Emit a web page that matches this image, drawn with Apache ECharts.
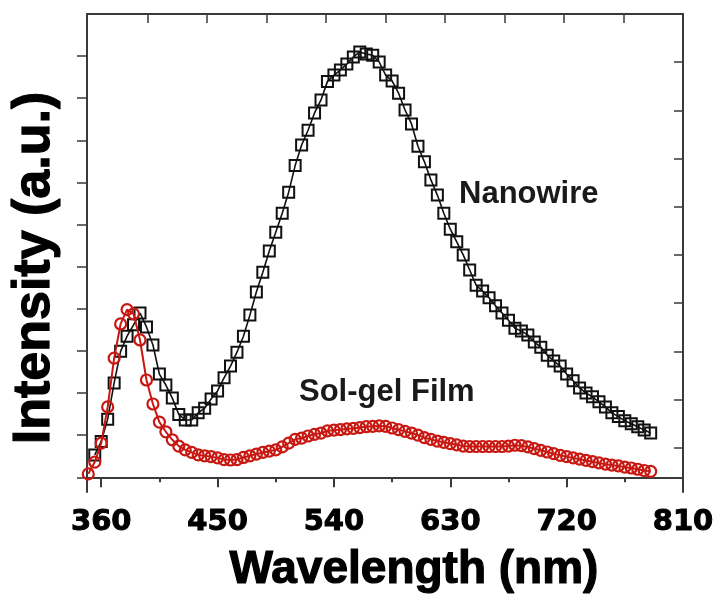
<!DOCTYPE html>
<html>
<head>
<meta charset="utf-8">
<script src="https://cdn.jsdelivr.net/npm/echarts@6/dist/echarts.min.js"></script>
<style>
  html, body { margin: 0; padding: 0; background: #fff; }
  #chart { width: 717px; height: 598px; }
</style>
</head>
<body>
<div id="chart"></div>
<script>
// Photoluminescence spectra, wavelength in nm, intensity in arbitrary units
const nanowireWavelength = [355,360,365,370,375,380,385,390,395,400,405,410,415,420,425,430,435,440,445,450,455,460,465,470,475,480,485,490,495,500,505,510,515,520,525,530,535,540,545,550,555,560,565,570,575,580,585,590,595,600,605,610,615,620,625,630,635,640,645,650,655,660,665,670,675,680,685,690,695,700,705,710,715,720,725,730,735,740,745,750,755,760,765,770,775,780,785];
const nanowireIntensity = [0.53,0.85,1.38,2.24,2.99,3.35,3.62,3.90,3.57,3.14,2.45,2.19,1.88,1.49,1.36,1.36,1.53,1.64,1.86,2.05,2.36,2.64,2.97,3.35,3.85,4.40,4.87,5.37,5.82,6.27,6.77,7.40,7.89,8.24,8.65,8.96,9.40,9.55,9.67,9.81,9.98,10.10,10.05,10.02,9.86,9.55,9.41,9.12,8.72,8.39,7.86,7.49,7.06,6.70,6.27,5.89,5.59,5.28,4.92,4.56,4.42,4.26,4.07,3.90,3.73,3.54,3.47,3.38,3.21,3.09,2.90,2.76,2.64,2.45,2.29,2.12,2.00,1.91,1.79,1.67,1.53,1.44,1.34,1.27,1.20,1.12,1.05];

const solgelWavelength = [350,355,360,365,370,375,380,385,390,395,400,405,410,415,420,425,430,435,440,445,450,455,460,465,470,475,480,485,490,495,500,505,510,515,520,525,530,535,540,545,550,555,560,565,570,575,580,585,590,595,600,605,610,615,620,625,630,635,640,645,650,655,660,665,670,675,680,685,690,695,700,705,710,715,720,725,730,735,740,745,750,755,760,765,770,775,780,785];
const solgelIntensity = [0.08,0.36,0.81,1.67,2.83,3.64,3.98,3.88,3.26,2.31,1.74,1.31,1.08,0.89,0.74,0.65,0.59,0.53,0.51,0.49,0.46,0.42,0.41,0.42,0.47,0.51,0.55,0.59,0.62,0.65,0.72,0.81,0.90,0.93,0.98,1.02,1.05,1.10,1.12,1.13,1.15,1.16,1.18,1.20,1.21,1.22,1.21,1.17,1.13,1.09,1.05,1.00,0.94,0.90,0.86,0.83,0.80,0.77,0.74,0.73,0.73,0.73,0.73,0.73,0.73,0.74,0.76,0.75,0.72,0.68,0.64,0.60,0.56,0.52,0.49,0.46,0.43,0.40,0.37,0.34,0.31,0.29,0.27,0.24,0.22,0.19,0.16,0.14];

// Axis tick labels and tick positions
const xTickLabels = [360, 450, 540, 630, 720, 810];
const xMinorTicks = [405, 495, 585, 675, 765];
const xTopTicks = [396, 442, 488, 534, 580, 626, 672, 718, 764];
const yLeftTicks = [0, 1, 2, 3, 4, 5, 6, 7, 8, 9, 10];
const yRightTicks = [9.856, 8.712, 7.568, 6.424, 5.28, 4.136, 2.992, 1.848, 0.704];

const X_MIN = 349, X_MAX = 810, Y_MIN = -0.35, Y_MAX = 11;
const AXIS_COLOR = '#3a3a3a';

function pairs(xs, ys) { return xs.map((x, i) => [x, ys[i]]); }

const chart = echarts.init(document.getElementById('chart'), null, { renderer: 'canvas' });

const option = {
  animation: false,
  backgroundColor: '#ffffff',
  grid: { left: 87, top: 14, right: 34, bottom: 106, containLabel: false },
  xAxis: [
    {
      type: 'value', min: X_MIN, max: X_MAX, position: 'bottom',
      axisLine: { show: true, lineStyle: { color: AXIS_COLOR, width: 2 } },
      axisTick: { show: true, inside: false, length: 10, customValues: xTickLabels, lineStyle: { color: AXIS_COLOR, width: 2 } },
      axisLabel: {
        show: true, customValues: xTickLabels, margin: 16,
        color: '#000', fontFamily: 'DejaVu Sans', fontWeight: 'bold', fontSize: 29,
        textBorderColor: '#000', textBorderWidth: 1
      },
      splitLine: { show: false }
    },
    {
      type: 'value', min: X_MIN, max: X_MAX, position: 'bottom',
      axisLine: { show: false },
      axisTick: { show: true, inside: false, length: 5, customValues: xMinorTicks, lineStyle: { color: AXIS_COLOR, width: 2 } },
      axisLabel: { show: false, customValues: xMinorTicks },
      splitLine: { show: false }
    },
    {
      type: 'value', min: X_MIN, max: X_MAX, position: 'top',
      axisLine: { show: true, lineStyle: { color: AXIS_COLOR, width: 2 } },
      axisTick: { show: true, inside: true, length: 9, customValues: xTopTicks, lineStyle: { color: AXIS_COLOR, width: 1.5 } },
      axisLabel: { show: false, customValues: xTopTicks },
      splitLine: { show: false }
    }
  ],
  yAxis: [
    {
      type: 'value', min: Y_MIN, max: Y_MAX, position: 'left',
      axisLine: { show: true, lineStyle: { color: AXIS_COLOR, width: 2 } },
      axisTick: { show: true, inside: false, length: 10, customValues: yLeftTicks, lineStyle: { color: AXIS_COLOR, width: 1.5 } },
      axisLabel: { show: false, customValues: yLeftTicks },
      splitLine: { show: false }
    },
    {
      type: 'value', min: Y_MIN, max: Y_MAX, position: 'right',
      axisLine: { show: true, lineStyle: { color: AXIS_COLOR, width: 2 } },
      axisTick: { show: true, inside: true, length: 9, customValues: yRightTicks, lineStyle: { color: AXIS_COLOR, width: 1.5 } },
      axisLabel: { show: false, customValues: yRightTicks },
      splitLine: { show: false }
    }
  ],
  series: [
    {
      name: 'Nanowire', type: 'line', xAxisIndex: 0, yAxisIndex: 0,
      data: pairs(nanowireWavelength, nanowireIntensity),
      symbol: 'rect', symbolSize: 11, showSymbol: true, showAllSymbol: true,
      itemStyle: { color: 'rgba(255,255,255,0)', borderColor: '#111', borderWidth: 2 },
      lineStyle: { color: '#111', width: 1.6 },
      z: 2
    },
    {
      name: 'Sol-gel Film', type: 'line', xAxisIndex: 0, yAxisIndex: 0,
      data: pairs(solgelWavelength, solgelIntensity),
      symbol: 'circle', symbolSize: 11, showSymbol: true, showAllSymbol: true,
      itemStyle: { color: 'rgba(255,255,255,0)', borderColor: '#c81812', borderWidth: 2.2 },
      lineStyle: { color: '#c81812', width: 2 },
      z: 3
    }
  ],
  graphic: [
    {
      type: 'text', left: 459, top: 179, silent: true,
      style: { text: 'Nanowire', fill: '#1a1a1a', font: 'bold 31px "Liberation Sans", Arial, sans-serif' }
    },
    {
      type: 'text', left: 299, top: 377, silent: true,
      style: { text: 'Sol-gel Film', fill: '#1a1a1a', font: 'bold 31px "Liberation Sans", Arial, sans-serif' }
    },
    {
      type: 'text', x: 414, y: 570, silent: true,
      style: {
        text: 'Wavelength (nm)', fill: '#000', font: 'bold 46px "Liberation Sans", Arial, sans-serif',
        align: 'center', verticalAlign: 'middle', stroke: '#000', lineWidth: 1.2
      }
    },
    {
      type: 'text', x: 35, y: 268, rotation: Math.PI / 2, silent: true,
      style: {
        text: 'Intensity (a.u.)', fill: '#000', font: 'bold 52px "Liberation Sans", Arial, sans-serif',
        align: 'center', verticalAlign: 'middle', stroke: '#000', lineWidth: 1.2
      }
    }
  ]
};

chart.setOption(option);
</script>
</body>
</html>
